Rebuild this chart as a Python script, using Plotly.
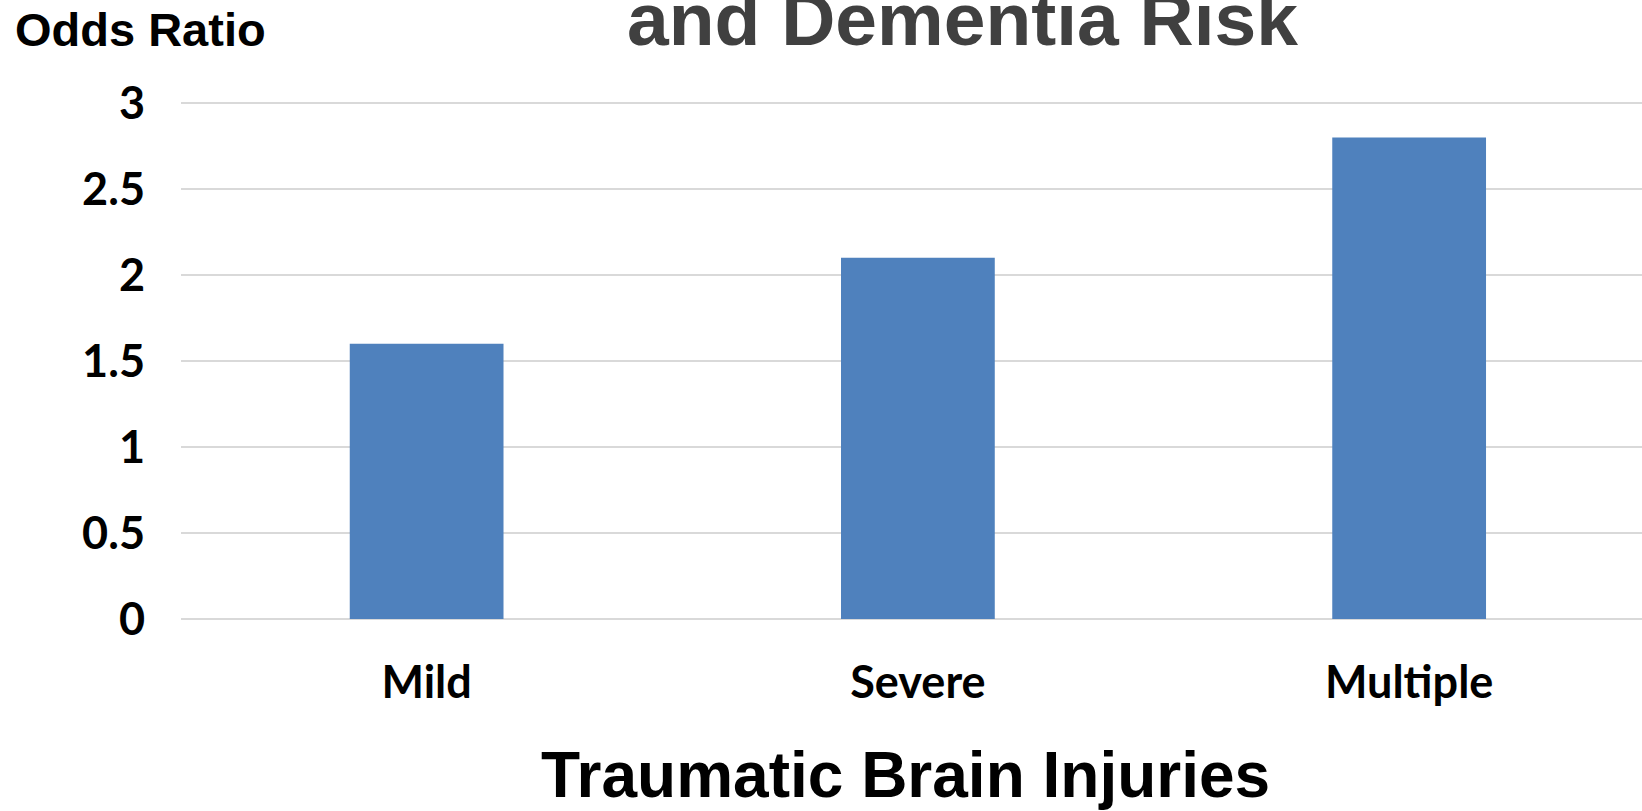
import plotly.graph_objects as go

categories = ["Mild", "Severe", "Multiple"]
odds_ratios = [1.6, 2.1, 2.8]
y_ticks = [0, 0.5, 1, 1.5, 2, 2.5, 3]
y_tick_labels = ["0", "0.5", "1", "1.5", "2", "2.5", "3"]

fig = go.Figure()
fig.add_trace(go.Bar(
    x=list(range(len(categories))),
    y=odds_ratios,
    width=0.313,
    marker=dict(color="#4F81BD", line=dict(color="#4F81BD", width=0)),
    hoverinfo="skip",
))

fig.update_layout(
    width=1642, height=811,
    margin=dict(l=181, r=0, t=102, b=192),
    paper_bgcolor="white", plot_bgcolor="white",
    showlegend=False,
    xaxis=dict(
        range=[-0.5, 2.474],
        tickmode="array",
        tickvals=list(range(len(categories))),
        ticktext=categories,
        showgrid=False, zeroline=False, showline=False,
        ticks="", ticklabelstandoff=33,
        tickfont=dict(family="Lato", size=45, color="#000000", weight="bold"),
    ),
    yaxis=dict(
        range=[0, 3.006],
        tickmode="array",
        tickvals=y_ticks,
        ticktext=y_tick_labels,
        showgrid=True, gridcolor="#D9D9D9", gridwidth=2,
        zeroline=True, zerolinecolor="#D9D9D9", zerolinewidth=2,
        showline=False, ticks="", ticklabelstandoff=35,
        tickfont=dict(family="Lato", size=45, color="#000000", weight="bold"),
    ),
    annotations=[
        dict(text="<b>and Dementia Risk</b>", xref="paper", yref="paper",
             x=0.535, y=1.160, xanchor="center", yanchor="middle", showarrow=False,
             font=dict(family="Liberation Sans", size=75, color="#404040")),
        dict(text="<b>Odds Ratio</b>", xref="paper", yref="paper",
             x=-0.115, y=1.140, xanchor="left", yanchor="middle", showarrow=False,
             font=dict(family="Liberation Sans", size=47, color="#000000")),
        dict(text="<b>Traumatic Brain Injuries</b>", xref="paper", yref="paper",
             x=0.496, y=-0.301, xanchor="center", yanchor="middle", showarrow=False,
             font=dict(family="Liberation Sans", size=64, color="#000000")),
    ],
)

fig.write_html(
    "out.html",
    config={"displayModeBar": False, "staticPlot": True},
    post_script="document.body.style.margin='0';document.body.style.overflow='hidden';",
)
